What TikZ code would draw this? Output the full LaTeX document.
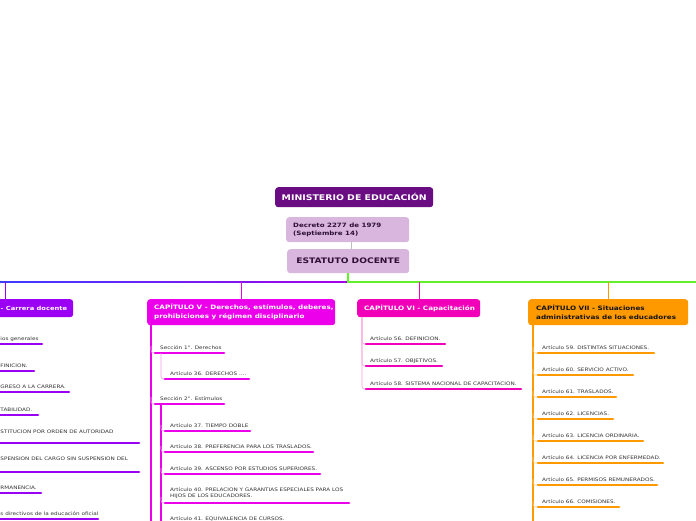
\documentclass[tikz,border=0pt]{standalone}
\usepackage{fontspec}
\setmainfont{DejaVu Sans}[FakeStretch=1.2]
\definecolor{minc}{RGB}{106,13,131}
\definecolor{lilac}{RGB}{216,182,222}
\definecolor{darktx}{RGB}{45,15,55}
\definecolor{purc}{RGB}{155,0,245}
\definecolor{magc}{RGB}{236,0,236}
\definecolor{pinkc}{RGB}{242,0,185}
\definecolor{orc}{RGB}{255,153,0}
\definecolor{grc}{RGB}{100,240,40}
\definecolor{txt}{RGB}{50,50,50}
\definecolor{lmag}{RGB}{245,150,240}
\definecolor{lpink}{RGB}{248,160,215}
\definecolor{lor}{RGB}{255,205,140}
\newcommand\mmitem[7]{%
  \node[itm, anchor=base west] (#1) at (#2,#3-4) {#7};
  \draw[uline, #6] (#4,#3) -- (#5,#3);
}
\begin{document}
\begin{tikzpicture}[x=1pt,y=-1pt,
  boxshape/.style={rounded corners=3pt, inner sep=0pt, anchor=north west},
  ttl/.style={inner sep=0pt, anchor=west, align=left, text=white,
    font=\bfseries\fontsize{6.0}{8.8}\selectfont},
  itm/.style={inner sep=0pt, font=\fontsize{4.75}{6}\selectfont, text=txt, align=left},
  uline/.style={line width=2.6pt, line cap=round},
  elbow/.style={line width=0.6pt, rounded corners=2.5pt},
  conn/.style={line width=1pt}]
\useasboundingbox (0,0) rectangle (696,520);
\begin{scope}
\clip (0,0) rectangle (696,520);

% top nodes
\node[boxshape, fill=minc, minimum width=158pt, minimum height=20pt, text=white,
  font=\bfseries\fontsize{7.8}{9}\selectfont] (min) at (275,187) {MINISTERIO DE EDUCACIÓN};
\node[boxshape, fill=lilac, minimum width=123pt, minimum height=25pt] (dec) at (286,217) {};
\node[ttl, text=darktx, font=\bfseries\fontsize{5.9}{8}\selectfont] (dect) at ([xshift=7pt]dec.west) {Decreto 2277 de 1979\\(Septiembre 14)};
\node[boxshape, fill=lilac, text=darktx, minimum width=122pt, minimum height=24pt,
  font=\bfseries\fontsize{7.6}{9}\selectfont] (est) at (287,249) {ESTATUTO DOCENTE};
\draw[line width=0.5pt, black!25] (dec.south -| 351,0) -- (est.north -| 351,0);

% main horizontal
\shade[left color={rgb,255:red,60;green,60;blue,255}, right color={rgb,255:red,165;green,0;blue,235}]
  (0,281.2) rectangle (348,282.8);
\coordinate (hub) at (348,282);
\draw[line width=1.6pt, grc] (est.south -| hub) -- (hub) -- (696,282);

% chapter boxes
\node[boxshape, fill=purc, minimum width=86pt, minimum height=18pt] (cap4) at (-13,299) {};
\node[ttl, font=\bfseries\fontsize{5.6}{8}\selectfont] (cap4t) at (0.5,308) {- Carrera docente};
\node[boxshape, fill=magc, minimum width=188pt, minimum height=26pt] (cap5) at (147,299) {};
\node[ttl] (cap5t) at ([xshift=7pt]cap5.west)
  {CAPÍTULO V - Derechos, estímulos, deberes,\\prohibiciones y régimen disciplinario};
\node[boxshape, fill=pinkc, minimum width=123pt, minimum height=18pt] (cap6) at (357,299) {};
\node[ttl] (cap6t) at ([xshift=7pt]cap6.west) {CAPÍTULO VI - Capacitación};
\node[boxshape, fill=orc, minimum width=160pt, minimum height=26pt] (cap7) at (528,299) {};
\node[ttl, text={rgb,255:red,20;green,20;blue,20}] (cap7t) at ([xshift=8pt]cap7.west)
  {CAPÍTULO VII - Situaciones\\administrativas de los educadores};

\draw[conn, purc] (cap4.north -| 5.5,0) -- (5.5,282);
\draw[conn, magc] (cap5.north -| 241.5,0) -- (241.5,282);
\draw[conn, pinkc] (cap6.north -| 419,0) -- (419,282);
\draw[conn, orc] (cap7.north -| 608,0) -- (608,282);

% left column
\mmitem{l1}{0.3}{344}{-5}{42}{purc}{ios generales}
\mmitem{l2}{0.3}{371}{-5}{34}{purc}{FINICION.}
\mmitem{l3}{0.3}{392}{-5}{69}{purc}{GRESO A LA CARRERA.}
\mmitem{l4}{0.3}{415}{-5}{38}{purc}{TABILIDAD.}
\node[itm, anchor=base west] (l5) at (0.3,433) {STITUCION POR ORDEN DE AUTORIDAD};
\draw[uline, purc] (-5,443) -- (139,443);
\node[itm, anchor=base west] (l6) at (0.3,460) {SPENSION DEL CARGO SIN SUSPENSION DEL};
\draw[uline, purc] (-5,472) -- (139,472);
\mmitem{l7}{0.3}{493}{-5}{41}{purc}{RMANENCIA.}
\mmitem{l8}{0.3}{519}{-5}{98}{purc}{s directivos de la educación oficial}

% chapter V
\draw[line width=2pt, magc] (151,325) -- (151,522);
\draw[elbow, lmag] (151,346) |- (155,353);
\draw[elbow, lmag] (151,397) |- (155,404);
\mmitem{s1}{160}{353}{155}{224}{magc}{Sección 1°. Derechos}
\draw[elbow, lmag] (161,353) |- (165,379);
\mmitem{a36}{170}{379}{165}{249}{magc}{Artículo 36. DERECHOS ....}
\mmitem{s2}{160}{404}{155}{224}{magc}{Sección 2°. Estímulos}
\draw[line width=1.6pt, magc] (161,404) -- (161,522);
\foreach \yy in {431,452,474,503} {\draw[elbow, lmag] (161,\yy-6) |- (165,\yy);}
\mmitem{a37}{170}{431}{165}{250}{magc}{Artículo 37. TIEMPO DOBLE}
\mmitem{a38}{170}{452}{165}{313}{magc}{Artículo 38. PREFERENCIA PARA LOS TRASLADOS.}
\mmitem{a39}{170}{474}{165}{320}{magc}{Artículo 39. ASCENSO POR ESTUDIOS SUPERIORES.}
\node[itm, anchor=west] (a40) at (170,493.5) {Artículo 40. PRELACION Y GARANTIAS ESPECIALES PARA LOS\\HIJOS DE LOS EDUCADORES.};
\draw[uline, magc] (165,503) -- (349,503);
\node[itm, anchor=base west] (a41) at (170,520) {Artículo 41. EQUIVALENCIA DE CURSOS.};

% chapter VI
\foreach \yy in {344,366,389} {\draw[elbow, lpink] (cap6.south -| 362,0) |- (366,\yy);}
\mmitem{a56}{370}{344}{366}{445}{pinkc}{Artículo 56. DEFINICION.}
\mmitem{a57}{370}{366}{366}{442}{pinkc}{Artículo 57. OBJETIVOS.}
\mmitem{a58}{370}{389}{366}{521}{pinkc}{Artículo 58. SISTEMA NACIONAL DE CAPACITACION.}

% chapter VII
\draw[line width=2pt, orc] (533,325) -- (533,522);
\foreach \yy in {353,375,397,419,441,463,485,507} {\draw[elbow, lor] (533,\yy-6) |- (538,\yy);}
\mmitem{a59}{542}{353}{538}{654}{orc}{Artículo 59. DISTINTAS SITUACIONES.}
\mmitem{a60}{542}{375}{538}{633}{orc}{Artículo 60. SERVICIO ACTIVO.}
\mmitem{a61}{542}{397}{538}{616}{orc}{Artículo 61. TRASLADOS.}
\mmitem{a62}{542}{419}{538}{613}{orc}{Artículo 62. LICENCIAS.}
\mmitem{a63}{542}{441}{538}{643}{orc}{Artículo 63. LICENCIA ORDINARIA.}
\mmitem{a64}{542}{463}{538}{663}{orc}{Artículo 64. LICENCIA POR ENFERMEDAD.}
\mmitem{a65}{542}{485}{538}{657}{orc}{Artículo 65. PERMISOS REMUNERADOS.}
\mmitem{a66}{542}{507}{538}{619}{orc}{Artículo 66. COMISIONES.}
\end{scope}
\end{tikzpicture}
\end{document}
